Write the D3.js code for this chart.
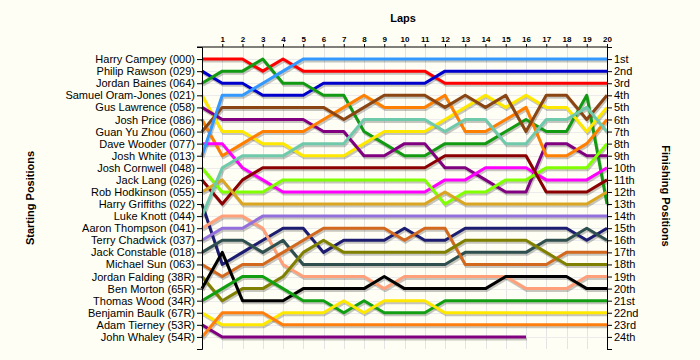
<!DOCTYPE html>
<html><head><meta charset="utf-8">
<script src="https://cdn.jsdelivr.net/npm/d3@7"></script>
<style>
html,body{margin:0;padding:0;background:#fffef4;}
svg{display:block;}
text{font-family:"Liberation Sans",Arial,sans-serif;}
</style></head>
<body><svg id="c" width="700" height="360"></svg>
<script>
const laps = d3.range(0, 21);
const lapTickLabels = d3.range(1, 21).map(String);
const drivers = ["Harry Campey (000)","Philip Rawson (029)","Jordan Baines (064)","Samuel Oram-Jones (021)","Gus Lawrence (058)","Josh Price (086)","Guan Yu Zhou (060)","Dave Wooder (077)","Josh White (013)","Josh Cornwell (048)","Jack Lang (026)","Rob Hodkinson (055)","Harry Griffiths (022)","Luke Knott (044)","Aaron Thompson (041)","Terry Chadwick (037)","Jack Constable (018)","Michael Sun (063)","Jordan Falding (38R)","Ben Morton (65R)","Thomas Wood (34R)","Benjamin Baulk (67R)","Adam Tierney (53R)","John Whaley (54R)"];
const finishLabels = ["1st","2nd","3rd","4th","5th","6th","7th","8th","9th","10th","11th","12th","13th","14th","15th","16th","17th","18th","19th","20th","21st","22nd","23rd","24th"];
const colors = ["#ff0000","#0000cc","#139a13","#ffe800","#800080","#ff8000","#8b4513","#ff00ff","#3399ff","#80ff00","#8b0000","#daa520","#1c1c70","#6fc9ab","#ffa07a","#9370db","#2f4f4f","#d2691e","#808000","#000000","#119f11","#ffe800","#800080","#ff7f0e"];
// position of each driver at laps 0..20 (null = retired)
const p01 = [1,1,1,2,1,2,2,2,2,2,2,2,3,3,3,3,3,3,3,3,3];
const p02 = [2,3,3,4,4,4,3,3,3,3,3,3,2,2,2,2,2,2,2,2,2];
const p03 = [3,2,2,1,3,3,4,4,7,8,9,9,8,8,8,7,6,7,7,4,13];
const p04 = [4,7,7,8,8,9,9,9,8,7,7,7,6,5,4,5,4,5,5,7,5];
const p05 = [5,6,6,6,6,6,7,7,9,9,8,8,10,10,11,12,12,8,8,9,9];
const p06 = [6,9,8,7,7,7,6,5,4,5,5,5,4,7,7,6,5,9,9,8,6];
const p07 = [7,5,5,5,5,5,5,6,5,4,4,4,5,4,5,4,7,4,4,6,4];
const p08 = [8,8,10,11,12,12,12,12,12,12,12,12,11,11,10,10,10,11,11,11,10];
const p09 = [9,4,4,3,2,1,1,1,1,1,1,1,1,1,1,1,1,1,1,1,1];
const p10 = [10,12,12,12,11,11,11,11,11,11,11,11,13,12,12,11,11,10,10,10,8];
const p11 = [11,13,11,10,10,10,10,10,10,10,10,10,9,9,9,9,9,12,12,12,11];
const p12 = [12,11,13,13,13,13,13,13,13,13,13,13,12,13,13,13,13,13,13,13,12];
const p13 = [13,18,17,16,15,15,17,16,16,16,15,16,16,15,15,15,15,15,15,16,15];
const p14 = [14,10,9,9,9,8,8,8,6,6,6,6,7,6,6,8,8,6,6,5,7];
const p15 = [15,14,14,15,18,19,19,19,19,20,19,19,19,19,19,19,20,20,20,19,19];
const p16 = [16,15,15,14,14,14,14,14,14,14,14,14,14,14,14,14,14,14,14,14,14];
const p17 = [17,16,16,17,16,18,18,18,18,18,18,18,18,17,17,17,17,16,16,15,16];
const p18 = [18,19,18,18,17,16,15,15,15,15,16,15,15,18,18,18,18,18,17,17,17];
const p19 = [19,21,20,20,19,17,16,17,17,17,17,17,17,16,16,16,16,17,18,18,18];
const p20 = [20,17,21,21,21,20,20,20,20,19,20,20,20,20,20,19,19,19,19,20,20];
const p21 = [21,20,19,19,20,21,21,22,21,22,22,22,21,21,21,21,21,21,21,21,21];
const p22 = [22,23,23,23,22,22,22,21,22,21,21,21,22,22,22,22,22,22,22,22,22];
const p23 = [23,24,24,24,24,24,24,24,24,24,24,24,24,24,24,24,24,null,null,null,null];
const p24 = [24,22,22,22,23,23,23,23,23,23,23,23,23,23,23,23,23,23,23,23,23];
const positions = [p01,p02,p03,p04,p05,p06,p07,p08,p09,p10,p11,p12,p13,p14,p15,p16,p17,p18,p19,p20,p21,p22,p23,p24];

const svg = d3.select("#c");
svg.append("rect").attr("width",700).attr("height",360).attr("fill","#fffef4");

const x = d3.scaleLinear().domain([0,20]).range([202,607]);
const y = d3.scaleLinear().domain([0,25]).range([47,349]);

// grid
const grid = svg.append("g");
grid.selectAll("line.v").data(laps.slice(1)).join("line")
  .attr("x1",d=>Math.round(x(d))+0.5).attr("x2",d=>Math.round(x(d))+0.5).attr("y1",y(0)).attr("y2",y(25))
  .attr("stroke","#e4e4e4").attr("stroke-width",1);
grid.selectAll("line.h").data(d3.range(1,25)).join("line")
  .attr("x1",x(0)).attr("x2",x(20)).attr("y1",d=>Math.round(y(d))+0.5).attr("y2",d=>Math.round(y(d))+0.5)
  .attr("stroke","#ececec").attr("stroke-width",1);

const line = d3.line().defined(d=>d!=null).x((d,i)=>x(i)).y(d=>y(d));

// shadows
svg.append("g").attr("transform","translate(1,2)")
  .selectAll("path").data(positions).join("path")
  .attr("d",line).attr("fill","none").attr("stroke","#000").attr("stroke-opacity",0.22)
  .attr("stroke-width",3).attr("stroke-linejoin","round");
svg.append("g").selectAll("path").data(positions).join("path")
  .attr("d",line).attr("fill","none").attr("stroke",(d,i)=>colors[i])
  .attr("stroke-width",3).attr("stroke-linejoin","round");

// axes
const leftAxis = svg.append("g").attr("transform",`translate(${x(0)},0)`)
  .call(d3.axisLeft(y).tickValues(d3.range(0,26)).tickSize(5).tickPadding(2)
    .tickFormat(d=>d>=1&&d<=24?drivers[d-1]:""));
const rightAxis = svg.append("g").attr("transform",`translate(${x(20)},0)`)
  .call(d3.axisRight(y).tickValues(d3.range(0,26)).tickSize(5).tickPadding(2)
    .tickFormat(d=>d>=1&&d<=24?finishLabels[d-1]:""));
const topAxis = svg.append("g").attr("transform",`translate(0,${y(0)})`)
  .call(d3.axisTop(x).tickValues(d3.range(1,21)).tickSize(3).tickPadding(2)
    .tickFormat(d=>lapTickLabels[d-1]));
[leftAxis,rightAxis].forEach(g=>{
  g.select(".domain").attr("stroke","#000");
  g.selectAll("text").attr("font-size",11).attr("fill","#000");
});
topAxis.select(".domain").attr("d",`M${x(0)-5},0H${x(20)}`);
topAxis.selectAll("text").attr("font-size",8).attr("font-weight","bold").attr("fill","#000");

// titles
svg.append("text").attr("x",403).attr("y",22).attr("text-anchor","middle")
  .attr("font-size",11).attr("font-weight","bold").text("Laps");
svg.append("text").attr("transform","translate(34,198) rotate(-90)").attr("text-anchor","middle")
  .attr("font-size",11).attr("font-weight","bold").text("Starting Positions");
svg.append("text").attr("transform","translate(662,196) rotate(90)").attr("text-anchor","middle")
  .attr("font-size",11).attr("font-weight","bold").text("Finishing Positions");
</script></body></html>
